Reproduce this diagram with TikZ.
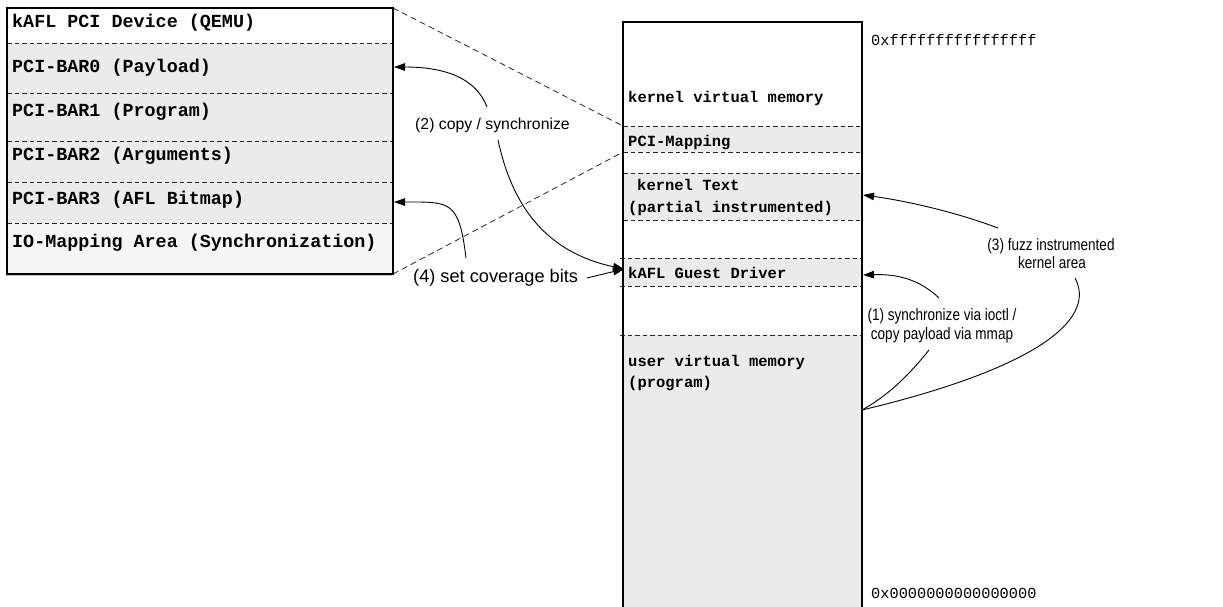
\documentclass[tikz,border=0pt]{standalone}
\usepackage{fontspec}
\setmainfont{Liberation Sans}
\setsansfont{Liberation Sans}
\setmonofont{Liberation Mono}
\newfontfamily\narrowsans[FakeStretch=0.82]{Liberation Sans}
\usetikzlibrary{arrows.meta}

\begin{document}
\begin{tikzpicture}[x=1pt,y=-1pt,
  frame/.style={draw=black,line width=1.2pt},
  sep/.style={draw=black!85,line width=0.9pt,dash pattern=on 4.5pt off 3pt},
  zoomline/.style={draw=black!85,line width=0.8pt,dash pattern=on 6pt off 4pt},
  memfill/.style={fill=black!8},
  iofill/.style={fill=black!4},
  devlbl/.style={font=\ttfamily\bfseries\fontsize{18.4}{22}\selectfont,inner sep=0pt,anchor=base west},
  memlbl/.style={font=\ttfamily\bfseries\fontsize{15.5}{20}\selectfont,inner sep=0pt,anchor=base west},
  addr/.style={font=\ttfamily\fontsize{15.3}{18}\selectfont,inner sep=0pt,anchor=base west},
  notemid/.style={font=\sffamily\fontsize{15.8}{19}\selectfont,inner sep=0pt,anchor=base west},
  notebig/.style={font=\sffamily\fontsize{18.2}{22}\selectfont,inner sep=0pt,anchor=base west},
  notenarrow/.style={font=\narrowsans\fontsize{16.5}{19}\selectfont,inner sep=0pt,anchor=base},
  flow/.style={draw=black,line width=0.9pt,-{Triangle[length=11pt,width=7.5pt]}},
  link/.style={draw=black,line width=0.9pt},
]
\useasboundingbox (0,0) rectangle (1223,606);
\clip (0,0) rectangle (1223,606);

% ---------------- PCI device (left) ----------------
\fill[black!22] (6,9.5) rectangle (392,276);
\fill[white] (7,8) rectangle (393,43);
\fill[memfill] (7,43) rectangle (393,223);
\fill[iofill] (7,223) rectangle (393,274);
\foreach \yy in {43,93,141,182,223}
  \draw[sep] (7,\yy) -- (393,\yy);
\draw[frame] (7,8) rectangle (393,274);

\node[devlbl] (devtitle) at (12,27) {kAFL PCI Device (QEMU)};
\node[devlbl] (bar0) at (12,72) {PCI-BAR0 (Payload)};
\node[devlbl] (bar1) at (12,116) {PCI-BAR1 (Program)};
\node[devlbl] (bar2) at (12,160) {PCI-BAR2 (Arguments)};
\node[devlbl] (bar3) at (12,204) {PCI-BAR3 (AFL Bitmap)};
\node[devlbl] (iomap) at (12,247) {IO-Mapping Area (Synchronization)};

% ---------------- guest address space (right) ----------------
\fill[memfill] (623,126) rectangle (862,152);
\fill[memfill] (623,173) rectangle (862,220);
\fill[memfill] (623,258) rectangle (862,286);
\fill[memfill] (623,335) rectangle (862,620);
\draw[sep] (623,126) -- (862,126);
\draw[sep] (623,152) -- (862,152);
\draw[sep] (623,173) -- (862,173);
\draw[sep] (623,220) -- (862,220);
\draw[sep] (620,258) -- (862,258);
\draw[sep] (620,286) -- (862,286);
\draw[sep] (620,335) -- (862,335);
\draw[frame] (623,620) -- (623,22) -- (862,22) -- (862,620);

\node[memlbl] (kvm) at (628,102) {kernel virtual memory};
\node[memlbl] (pcimap) at (628,146) {PCI-Mapping};
\node[memlbl] (ktext) at (637,190) {kernel Text};
\node[memlbl] (ktextb) at (628,212) {(partial instrumented)};
\node[memlbl] (gdrv) at (628,278) {kAFL Guest Driver};
\node[memlbl] (uvm) at (628,366) {user virtual memory};
\node[memlbl] (uvmb) at (628,387) {(program)};

\node[addr] (addrhi) at (871,45) {0xffffffffffffffff};
\node[addr] (addrlo) at (871,598) {0x0000000000000000};

% mapping of the PCI window into kernel memory
\coordinate (devtr) at (393,8);
\coordinate (devbr) at (393,274);
\coordinate (maptl) at (623,126);
\coordinate (mapbl) at (623,152);
\draw[zoomline] (devtr) -- (maptl);
\draw[zoomline] (devbr) -- (mapbl);

% ---------------- annotations ----------------
\node[notemid] (copysync) at (415,129) {(2) copy / synchronize};
\node[notebig] (covbits) at (413,282) {(4) set coverage bits};
\node[notenarrow] (fuzz) at (1051,250) {(3) fuzz instrumented};
\node[notenarrow] (fuzzb) at (1052,268) {kernel area};
\node[notenarrow] (sync) at (942,320) {(1) synchronize via ioctl /};
\node[notenarrow] (syncb) at (942,339) {copy payload via mmap};

% arrow end points on the box borders
\coordinate (bar0in) at (394,67);
\coordinate (bar3in) at (394,202);
\coordinate (gdrvin) at (624,269);
\coordinate (ktextin) at (863,195);
\coordinate (gdrvout) at (863,275);
\coordinate (uvmout) at (862,410);

% arrow start points next to the labels
\coordinate (s2a) at (487,107);
\coordinate (s2b) at (498,140);
\coordinate (s4a) at (587,278);
\coordinate (s4b) at (466,258);
\coordinate (s3a) at (998,228);
\coordinate (s3b) at (1075,278);
\coordinate (s1a) at (939,298);
\coordinate (s1b) at (929,350);

\draw[flow] (s2a) .. controls (476,78) and (445,67) .. (bar0in);
\draw[flow] (s2b) .. controls (512,205) and (545,252) .. (gdrvin);
\draw[flow] (s4a) -- (gdrvin);
\draw[flow] (s4b) .. controls (459,200) and (450,202) .. (bar3in);
\draw[flow] (s3a) .. controls (950,210) and (900,200) .. (ktextin);
\draw[link] (s3b) .. controls (1095,315) and (1050,365) .. (uvmout);
\draw[flow] (s1a) .. controls (918,278) and (895,274) .. (gdrvout);
\draw[link] (s1b) .. controls (905,380) and (885,397) .. (uvmout);
\end{tikzpicture}
\end{document}
